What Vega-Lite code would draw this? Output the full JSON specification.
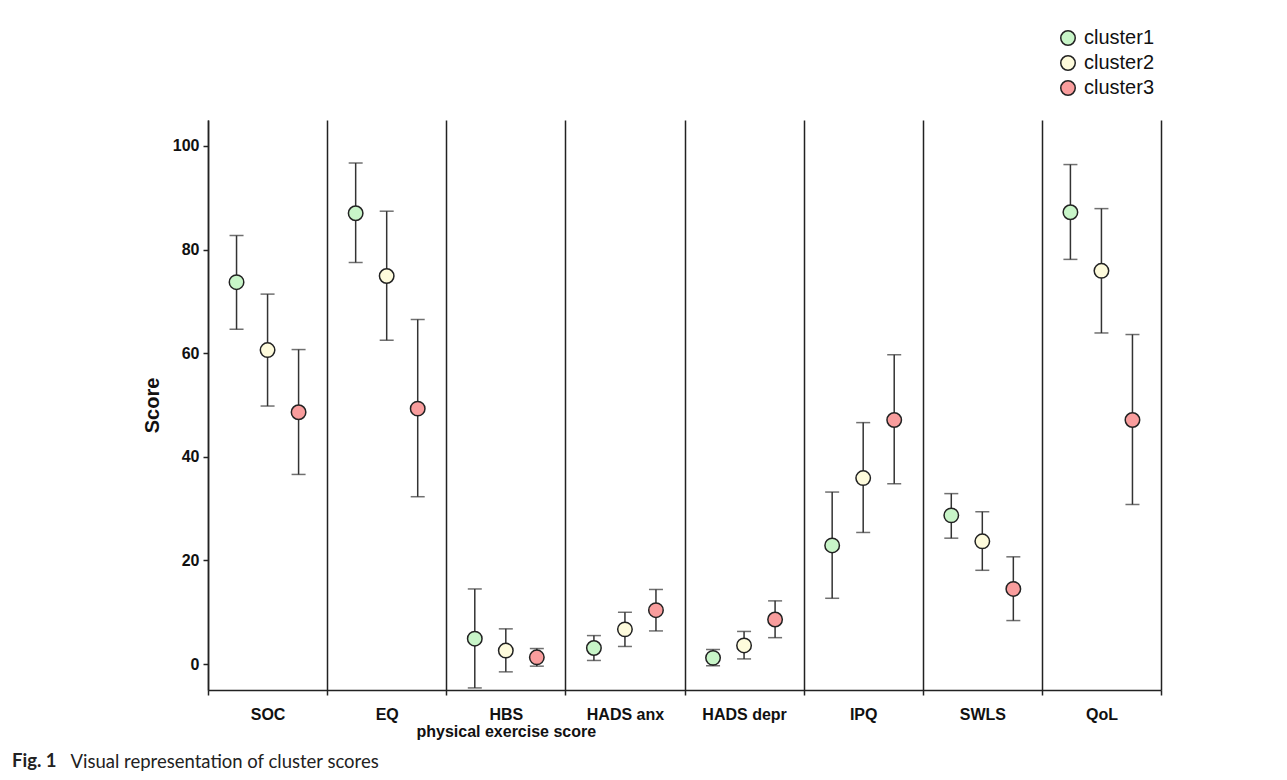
{
  "$schema": "https://vega.github.io/schema/vega-lite/v6.json",
  "width": 953,
  "height": 570,
  "autosize": {"type": "none"},
  "padding": {"left": 208, "top": 120, "right": 126, "bottom": 90},
  "background": "white",
  "config": {"view": {"stroke": null}, "font": "Liberation Sans"},
  "title": {
    "text": "Fig. 1",
    "orient": "bottom",
    "anchor": "start",
    "frame": "group",
    "dx": -196,
    "offset": -19,
    "font": "Lato",
    "fontSize": 18.5,
    "fontWeight": "bold",
    "color": "#222"
  },
  "data": {
    "values": [
      {"measure": "SOC", "cluster": "cluster1", "mean": 73.7, "lo": 64.6, "hi": 82.7},
      {"measure": "SOC", "cluster": "cluster2", "mean": 60.6, "lo": 49.8, "hi": 71.4},
      {"measure": "SOC", "cluster": "cluster3", "mean": 48.6, "lo": 36.6, "hi": 60.7},
      {"measure": "EQ", "cluster": "cluster1", "mean": 87.0, "lo": 77.5, "hi": 96.7},
      {"measure": "EQ", "cluster": "cluster2", "mean": 74.9, "lo": 62.5, "hi": 87.4},
      {"measure": "EQ", "cluster": "cluster3", "mean": 49.3, "lo": 32.3, "hi": 66.5},
      {"measure": "HBS", "cluster": "cluster1", "mean": 4.9, "lo": -4.6, "hi": 14.5},
      {"measure": "HBS", "cluster": "cluster2", "mean": 2.6, "lo": -1.5, "hi": 6.8},
      {"measure": "HBS", "cluster": "cluster3", "mean": 1.3, "lo": -0.4, "hi": 3.0},
      {"measure": "HADS anx", "cluster": "cluster1", "mean": 3.1, "lo": 0.7, "hi": 5.5},
      {"measure": "HADS anx", "cluster": "cluster2", "mean": 6.7, "lo": 3.4, "hi": 10.0},
      {"measure": "HADS anx", "cluster": "cluster3", "mean": 10.4, "lo": 6.4, "hi": 14.4},
      {"measure": "HADS depr", "cluster": "cluster1", "mean": 1.2, "lo": -0.3, "hi": 2.8},
      {"measure": "HADS depr", "cluster": "cluster2", "mean": 3.6, "lo": 1.0, "hi": 6.3},
      {"measure": "HADS depr", "cluster": "cluster3", "mean": 8.6, "lo": 5.1, "hi": 12.2},
      {"measure": "IPQ", "cluster": "cluster1", "mean": 22.9, "lo": 12.7, "hi": 33.2},
      {"measure": "IPQ", "cluster": "cluster2", "mean": 35.9, "lo": 25.4, "hi": 46.6},
      {"measure": "IPQ", "cluster": "cluster3", "mean": 47.1, "lo": 34.8, "hi": 59.7},
      {"measure": "SWLS", "cluster": "cluster1", "mean": 28.7, "lo": 24.3, "hi": 32.9},
      {"measure": "SWLS", "cluster": "cluster2", "mean": 23.7, "lo": 18.1, "hi": 29.4},
      {"measure": "SWLS", "cluster": "cluster3", "mean": 14.5, "lo": 8.4, "hi": 20.7},
      {"measure": "QoL", "cluster": "cluster1", "mean": 87.2, "lo": 78.1, "hi": 96.4},
      {"measure": "QoL", "cluster": "cluster2", "mean": 75.9, "lo": 63.9, "hi": 87.9},
      {"measure": "QoL", "cluster": "cluster3", "mean": 47.1, "lo": 30.8, "hi": 63.6}
    ]
  },
  "encoding": {
    "x": {
      "field": "measure",
      "type": "nominal",
      "sort": ["SOC", "EQ", "HBS", "HADS anx", "HADS depr", "IPQ", "SWLS", "QoL"],
      "scale": {"paddingInner": 0, "paddingOuter": 0},
      "axis": {
        "labelAngle": 0,
        "labelExpr": "datum.value == 'HBS' ? ['HBS', 'physical exercise score'] : datum.value",
        "labelFont": "Liberation Sans",
        "labelFontSize": 16,
        "labelFontWeight": "bold",
        "labelColor": "#111",
        "labelPadding": 11,
        "labelLineHeight": 17,
        "labelOverlap": false,
        "labelBound": false,
        "tickBand": "extent",
        "ticks": true,
        "tickSize": 5,
        "tickColor": "#222",
        "tickWidth": 1.5,
        "domainColor": "#222",
        "domainWidth": 1.5,
        "grid": true,
        "gridColor": "#222",
        "gridWidth": 1.5,
        "gridOpacity": 1,
        "title": "Visual representation of cluster scores",
        "titleFont": "Lato",
        "titleFontSize": 18.5,
        "titleFontWeight": "normal",
        "titleColor": "#222",
        "titleX": -138,
        "titleY": 77,
        "titleAlign": "left",
        "titleAnchor": "start",
        "titleBaseline": "alphabetic"
      }
    },
    "xOffset": {
      "field": "cluster",
      "type": "nominal",
      "scale": {"paddingInner": 0, "paddingOuter": 0.42}
    }
  },
  "layer": [
    {
      "mark": {"type": "rule", "color": "#333", "strokeWidth": 1.5},
      "encoding": {
        "y": {
          "field": "lo",
          "type": "quantitative",
          "title": "Score",
          "scale": {"domain": [-5, 105], "nice": false, "zero": false},
          "axis": {
            "values": [0, 20, 40, 60, 80, 100],
            "grid": false,
            "domainColor": "#222",
            "domainWidth": 1.5,
            "tickColor": "#222",
            "tickWidth": 1.5,
            "tickSize": 5,
            "labelFont": "Liberation Sans",
            "labelFontSize": 16,
            "labelFontWeight": "bold",
            "labelColor": "#111",
            "labelPadding": 4,
            "titleFont": "Liberation Sans",
            "titleFontSize": 20,
            "titleFontWeight": "bold",
            "titleColor": "#111",
            "titlePadding": 10
          }
        },
        "y2": {"field": "hi"}
      }
    },
    {
      "mark": {"type": "tick", "color": "#333", "size": 14, "thickness": 1.5},
      "encoding": {"y": {"field": "lo", "type": "quantitative", "title": "Score"}}
    },
    {
      "mark": {"type": "tick", "color": "#333", "size": 14, "thickness": 1.5},
      "encoding": {"y": {"field": "hi", "type": "quantitative", "title": "Score"}}
    },
    {
      "mark": {"type": "circle", "size": 210, "stroke": "#222", "strokeWidth": 1.5, "opacity": 1},
      "encoding": {
        "y": {"field": "mean", "type": "quantitative", "title": "Score"},
        "fill": {
          "field": "cluster",
          "type": "nominal",
          "scale": {"domain": ["cluster1", "cluster2", "cluster3"], "range": ["#c8f5c8", "#fefbdc", "#f99d9d"]},
          "legend": {
            "orient": "none",
            "legendX": 850,
            "legendY": -92,
            "title": null,
            "labelFont": "Liberation Sans",
            "labelFontSize": 20,
            "labelColor": "#111",
            "labelOffset": 6,
            "symbolType": "circle",
            "symbolSize": 210,
            "symbolStrokeColor": "#222",
            "symbolStrokeWidth": 1.5,
            "symbolOpacity": 1,
            "rowPadding": 3
          }
        }
      }
    }
  ]
}
